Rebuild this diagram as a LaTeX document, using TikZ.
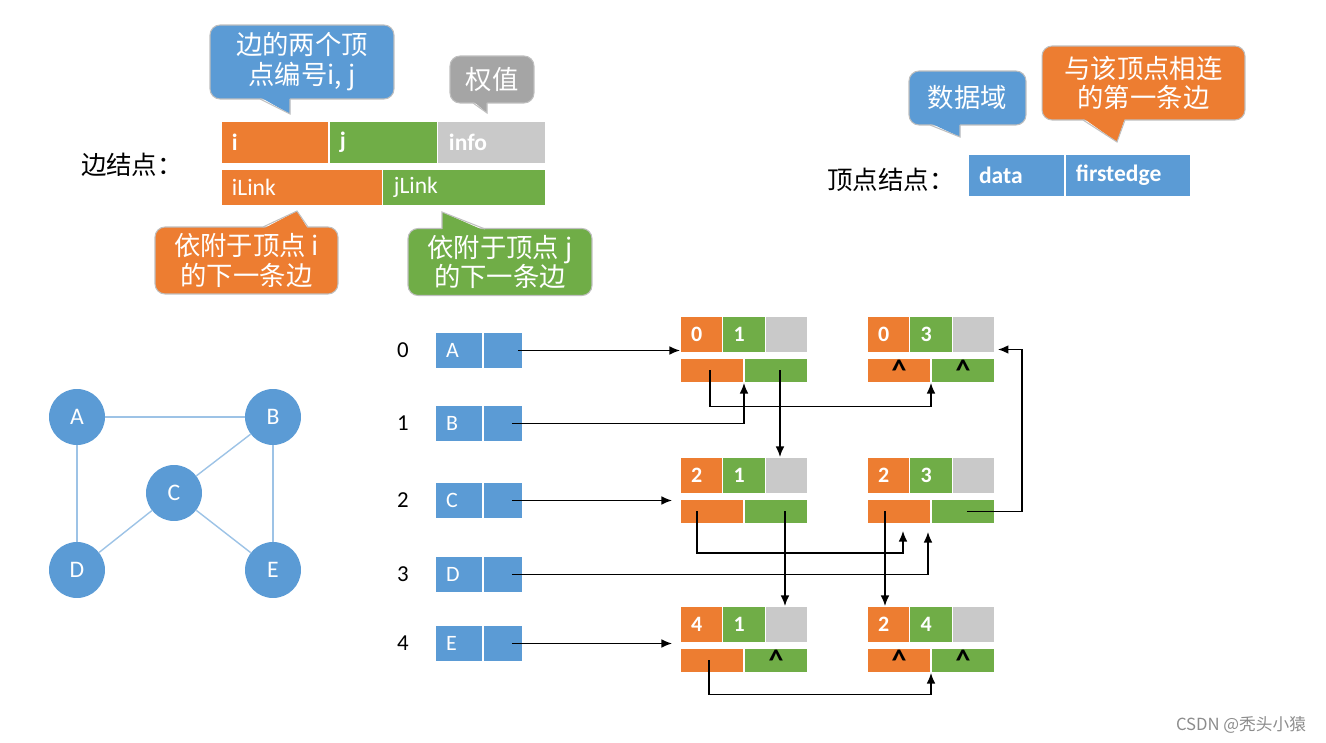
\documentclass[tikz,border=0pt]{standalone}
\usepackage{fontspec}
\setmainfont{Carlito}
\newfontfamily\cjk{Noto Sans CJK SC}
\usetikzlibrary{arrows.meta,calc}

\definecolor{cOrange}{HTML}{ED7D31}
\definecolor{cGreen}{HTML}{70AD47}
\definecolor{cGray}{HTML}{C9C9C9}
\definecolor{cBlue}{HTML}{5B9BD5}
\definecolor{cTag}{HTML}{A5A5A5}
\definecolor{cLine}{HTML}{9DC3E6}

\tikzset{
  cell/.style={draw=white, line width=0.6pt, inner sep=0pt, outer sep=0pt,
    anchor=north west, text=white, font=\fontsize{12.5pt}{14pt}\selectfont\bfseries},
  ecell/.style={cell, minimum height=0.74cm, text width=0.413cm, inner xsep=0.22cm, align=left},
  lkcell/.style={cell, minimum width=1.28cm, minimum height=0.5cm},
  lcell/.style={cell, inner xsep=0.22cm, align=left, font=\fontsize{13.4pt}{15pt}\selectfont\bfseries},
  vcell/.style={cell, fill=cBlue, minimum height=0.74cm, font=\fontsize{12.5pt}{14pt}\selectfont},
  bubble/.style={rounded corners=0.2cm, draw=black!25, line width=0.6pt, text=white,
    align=center, inner sep=0pt, font=\cjk\fontsize{15pt}{17pt}\selectfont},
  tailline/.style={draw=black!25, line width=0.6pt},
  gnode/.style={circle, fill=cBlue, minimum size=1.12cm, inner sep=0pt, text=white,
    font=\fontsize{13.5pt}{15pt}\selectfont},
  gedge/.style={draw=cLine, line width=0.8pt},
  ptr/.style={->, line width=0.9pt},
  idx/.style={font=\fontsize{13pt}{15pt}\selectfont},
  title/.style={font=\cjk\fontsize{14.5pt}{16pt}\selectfont}
}

% one edge node: name, x, y (top left), i, j, iLink, jLink
\newcommand{\edgenode}[7]{%
  \node[ecell, fill=cOrange] (#1-i) at (#2,#3) {#4};
  \node[ecell, fill=cGreen] (#1-j) at (#1-i.north east) {#5};
  \node[ecell, fill=cGray] (#1-w) at (#1-j.north east) {};
  \node[lkcell, fill=cOrange] (#1-il) at ([yshift=-0.1cm]#1-i.south west) {#6};
  \node[lkcell, fill=cGreen] (#1-jl) at (#1-il.north east) {#7};
}
\newcommand{\nilmark}{\raisebox{-0.16cm}{\textcolor{black}{\fontsize{17pt}{17pt}\selectfont\textasciicircum}}}

\begin{document}
\begin{tikzpicture}[x=0.02cm, y=-0.02cm, >={Latex[length=6pt,width=5pt]}]
\useasboundingbox (0,0) rectangle (1326,743);

% edge node legend
\node[title] (tEdge) at (132,165) {边结点：};
\node[lcell, fill=cOrange, text width=1.72cm, minimum height=0.86cm] (ki) at (221,121) {i};
\node[lcell, fill=cGreen, text width=1.74cm, minimum height=0.86cm] (kj) at (ki.north east) {j};
\node[lcell, fill=cGray, text width=1.72cm, minimum height=0.86cm] (kw) at (kj.north east) {info};
\node[lcell, fill=cOrange, text width=2.80cm, minimum height=0.74cm,
  font=\fontsize{13.4pt}{15pt}\selectfont] (kil) at (221,169) {iLink};
\node[lcell, fill=cGreen, text width=2.82cm, minimum height=0.74cm,
  font=\fontsize{13.4pt}{15pt}\selectfont] (kjl) at (kil.north east) {jLink};

% callouts
\node[bubble, fill=cBlue, minimum width=3.68cm, minimum height=1.48cm] (bIJ) at (302,62) {边的两个顶\\点编号i, j};
\fill[cBlue] (260,97) -- (290,114) -- (290,97) -- cycle;
\draw[tailline] (260,99) -- (290,114) -- (290,99);

\node[bubble, fill=cTag, minimum width=1.68cm, minimum height=0.94cm] (bW) at (492,79.5) {权值};
\fill[cTag] (473,101) -- (487,113) -- (487,101) -- cycle;
\draw[tailline] (473,103) -- (487,113) -- (487,103);

\node[bubble, fill=cOrange, minimum width=3.66cm, minimum height=1.34cm] (bIL) at (246.5,260.5) {依附于顶点 i\\的下一条边};
\fill[cOrange] (263,229) -- (297,211) -- (308,229) -- cycle;
\draw[tailline] (263,227) -- (297,211) -- (308,227);

\node[bubble, fill=cGreen, minimum width=3.68cm, minimum height=1.34cm] (bJL) at (500,262) {依附于顶点 j\\的下一条边};
\fill[cGreen] (442,231) -- (442,212) -- (485,231) -- cycle;
\draw[tailline] (442,229) -- (442,212) -- (485,229);

% vertex node legend
\node[title] (tVex) at (891,180) {顶点结点：};
\node[lcell, fill=cBlue, text width=1.50cm, minimum height=0.86cm] (kd) at (968,154) {data};
\node[lcell, fill=cBlue, text width=2.08cm, minimum height=0.86cm] (kf) at (kd.north east) {firstedge};

\node[bubble, fill=cBlue, minimum width=2.34cm, minimum height=1.08cm] (bD) at (967.5,98) {数据域};
\fill[cBlue] (930,123) -- (960,137) -- (960,123) -- cycle;
\draw[tailline] (930,125) -- (960,137) -- (960,125);

\node[bubble, fill=cOrange, minimum width=4.06cm, minimum height=1.48cm] (bF) at (1143.5,83) {与该顶点相连\\的第一条边};
\fill[cOrange] (1083,118) -- (1117,142) -- (1125,118) -- cycle;
\draw[tailline] (1083,120) -- (1117,142) -- (1125,120);

% the graph
\node[gnode] (gA) at (77,417) {A};
\node[gnode] (gB) at (273,417) {B};
\node[gnode] (gC) at (174,493) {C};
\node[gnode] (gD) at (77,570) {D};
\node[gnode] (gE) at (273,570) {E};
\draw[gedge] (gA) -- (gB);
\draw[gedge] (gA) -- (gD);
\draw[gedge] (gB) -- (gC);
\draw[gedge] (gB) -- (gE);
\draw[gedge] (gC) -- (gD);
\draw[gedge] (gC) -- (gE);

% vertex list
\foreach \v/\i/\y in {A/0/332, B/1/405, C/2/482, D/3/556, E/4/625} {
  \node[vcell, text width=0.52cm, inner xsep=0.22cm, align=left] (v\v) at (435,\y) {\v};
  \node[vcell, minimum width=0.8cm] (p\v) at (v\v.north east) {};
  \node[idx] (n\v) at (403,\y+18.5) {\i};
}

% edge list
\edgenode{e01}{680}{316}{0}{1}{}{}
\edgenode{e03}{867}{316}{0}{3}{\nilmark}{\nilmark}
\edgenode{e21}{680}{457}{2}{1}{}{}
\edgenode{e23}{867}{457}{2}{3}{}{}
\edgenode{e41}{680}{606}{4}{1}{}{\nilmark}
\edgenode{e24}{867}{606}{2}{4}{\nilmark}{\nilmark}

% pointers
\draw[ptr] ([xshift=0.3cm]pA.center) -- (pA.center -| e01-i.west);
\draw[ptr] ([xshift=0.18cm]pB.center) -| (e01-il.south east);
\draw[ptr, shorten >=0.16cm] ([xshift=0.18cm]pC.center) -- (pC.center -| e21-il.west);
\draw[ptr, shorten >=0.16cm] ([xshift=0.18cm]pD.center) -| ([xshift=-0.06cm]e23-il.south east);
\draw[ptr, shorten >=0.16cm] ([xshift=0.18cm]pE.center) -- (pE.center -| e41-i.west);

\draw[ptr] ([xshift=-0.04cm]e01-il.center) -- ++(0,36) -| (e03-il.south east);
\draw[ptr] ([xshift=0.08cm]e01-jl.center) -- ([xshift=0.08cm]e01-jl.center |- e21-w.north);
\draw[ptr, shorten >=0.14cm] ([xshift=-0.3cm]e21-il.center) -- ++(0,41.5) -| ([xshift=0.08cm]e23-il.south);
\draw[ptr] ([xshift=0.18cm]e21-jl.center) -- ([xshift=0.18cm]e21-jl.center |- e41-w.north);
\draw[ptr] ([xshift=-0.28cm]e23-il.center) -- ([xshift=-0.28cm]e23-il.center |- e24-i.north);
\draw[ptr, shorten >=0.06cm] ([xshift=0.08cm]e23-jl.center) -- ++(55,0) |- ([yshift=-0.3cm]e03-w.east);
\draw[ptr] ([xshift=-0.06cm]e41-il.center) -- ++(0,34) -| (e24-il.south east);

\node[text=black!45, font=\cjk\fontsize{9.5pt}{11pt}\selectfont] (wm) at (1241,725) {CSDN @秃头小猿};
\end{tikzpicture}
\end{document}
